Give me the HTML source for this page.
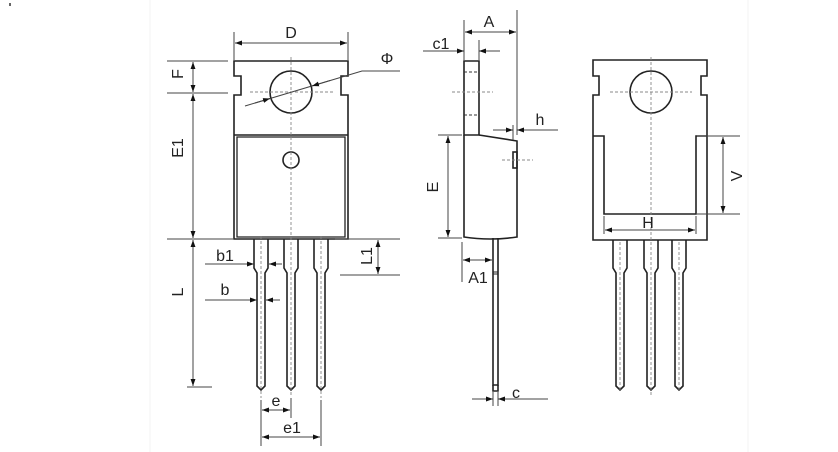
<!DOCTYPE html>
<html><head><meta charset="utf-8"><style>
html,body{margin:0;padding:0;background:#fff;}
svg{display:block;}
text{font-family:"Liberation Sans",sans-serif;fill:#222;}
</style></head><body>
<svg width="838" height="452" viewBox="0 0 838 452" xmlns="http://www.w3.org/2000/svg">
<defs>
<marker id="a" viewBox="0 0 10 10" refX="10" refY="5" markerWidth="7" markerHeight="7" orient="auto-start-reverse"><path d="M0,1.5 L10,5 L0,8.5 z" fill="#111"/></marker>
</defs>
<rect width="838" height="452" fill="#fff"/>
<line x1="150" y1="0" x2="150" y2="452" stroke="#f3f3f3"/>
<line x1="748" y1="0" x2="748" y2="452" stroke="#f3f3f3"/>
<rect x="9" y="3" width="2" height="3" fill="#666"/>

<g fill="none" stroke="#222" stroke-width="1.6">
<path d="M234,61 H348 V76 H341 V95 H348 V239 H234 V95 H241 V76 H234 Z"/>
<path d="M234,135 H348"/>
<path d="M237,137 H345 V237 H237 Z" stroke-width="1.3"/>
<circle cx="291" cy="92" r="21"/>
<circle cx="291" cy="160" r="8"/>
<path d="M254,239 V268 L257,273 V386 L261,390 L265,386 V273 L268,268 V239"/>
<path d="M284,239 V268 L287,273 V386 L291,390 L295,386 V273 L298,268 V239"/>
<path d="M314,239 V268 L317,273 V386 L321,390 L325,386 V273 L328,268 V239"/>

<path d="M464,61 H479 V135 H464 Z"/>
<path d="M464,135 V237 Q490,241 517,237 V141 L479,135"/>
<rect x="513" y="152" width="4" height="16"/>
<path d="M493,238 V385 H498 V238"/>
<path d="M493,385 V391 H498 V385"/>
<path d="M493,272 H498 M493,274 H498" stroke-width="1"/>

<path d="M593,60 H707 V76 H701 V95 H707 V240 H593 V95 H599 V76 H593 Z"/>
<path d="M593,136 H604 V214 H696 V136 H707"/>
<circle cx="651" cy="92" r="21"/>
<path d="M613,240 V268 L616,273 V386 L620,390 L624,386 V273 L627,268 V240"/>
<path d="M644,240 V268 L647,273 V386 L651,390 L655,386 V273 L658,268 V240"/>
<path d="M672,240 V268 L675,273 V386 L679,390 L683,386 V273 L686,268 V240"/>
</g>

<g fill="none" stroke="#888" stroke-width="0.9" stroke-dasharray="3,2">
<line x1="291" y1="57" x2="291" y2="395"/>
<line x1="250" y1="92" x2="335" y2="92"/>
<line x1="261" y1="236" x2="261" y2="398"/>
<line x1="321" y1="236" x2="321" y2="398"/>
<line x1="464" y1="72" x2="479" y2="72" stroke="#333"/>
<line x1="464" y1="115" x2="479" y2="115" stroke="#333"/>
<line x1="452" y1="92" x2="493" y2="92"/>
<line x1="502" y1="160" x2="533" y2="160"/>
<line x1="651" y1="57" x2="651" y2="395"/>
<line x1="610" y1="92" x2="692" y2="92"/>
<line x1="620" y1="242" x2="620" y2="390"/>
<line x1="679" y1="242" x2="679" y2="390"/>
</g>

<g fill="none" stroke="#444" stroke-width="1">
<line x1="234" y1="32" x2="234" y2="60"/><line x1="348" y1="32" x2="348" y2="60"/>
<line x1="235" y1="43" x2="347" y2="43" marker-start="url(#a)" marker-end="url(#a)"/>
<line x1="167" y1="61" x2="228" y2="61"/><line x1="167" y1="93" x2="228" y2="93"/>
<line x1="167" y1="239" x2="233" y2="239"/><line x1="187" y1="387" x2="212" y2="387"/>
<line x1="193" y1="62" x2="193" y2="92" marker-start="url(#a)" marker-end="url(#a)"/>
<line x1="193" y1="94" x2="193" y2="238" marker-start="url(#a)" marker-end="url(#a)"/>
<line x1="193" y1="240" x2="193" y2="386" marker-start="url(#a)" marker-end="url(#a)"/>
<polyline points="245,106 362,71 400,71"/>
<line x1="255" y1="103" x2="270" y2="98.5" marker-end="url(#a)"/>
<line x1="330" y1="80.5" x2="312" y2="86" marker-end="url(#a)"/>
<line x1="335" y1="239" x2="400" y2="239"/><line x1="340" y1="275" x2="400" y2="275"/>
<line x1="378" y1="240" x2="378" y2="274" marker-start="url(#a)" marker-end="url(#a)"/>
<line x1="205" y1="264" x2="254" y2="264" marker-end="url(#a)"/>
<line x1="282" y1="264" x2="269" y2="264" marker-end="url(#a)"/>
<line x1="205" y1="300" x2="257" y2="300" marker-end="url(#a)"/>
<line x1="280" y1="300" x2="266" y2="300" marker-end="url(#a)"/>
<line x1="261" y1="400" x2="261" y2="446"/><line x1="321" y1="400" x2="321" y2="446"/><line x1="291" y1="398" x2="291" y2="418"/>
<line x1="262" y1="410" x2="290" y2="410" marker-start="url(#a)" marker-end="url(#a)"/>
<line x1="262" y1="437" x2="320" y2="437" marker-start="url(#a)" marker-end="url(#a)"/>
<line x1="464" y1="20" x2="464" y2="60"/><line x1="517" y1="10" x2="517" y2="135"/>
<line x1="465" y1="32" x2="516" y2="32" marker-start="url(#a)" marker-end="url(#a)"/>
<line x1="479" y1="40" x2="479" y2="60"/>
<line x1="423" y1="51" x2="464" y2="51" marker-end="url(#a)"/>
<line x1="500" y1="51" x2="479" y2="51" marker-end="url(#a)"/>
<line x1="513" y1="125" x2="513" y2="140"/>
<line x1="493" y1="130" x2="513" y2="130" marker-end="url(#a)"/>
<line x1="558" y1="130" x2="517" y2="130" marker-end="url(#a)"/>
<line x1="438" y1="135" x2="462" y2="135"/><line x1="438" y1="238" x2="462" y2="238"/>
<line x1="448" y1="136" x2="448" y2="237" marker-start="url(#a)" marker-end="url(#a)"/>
<line x1="462" y1="242" x2="462" y2="282"/>
<line x1="463" y1="260" x2="492" y2="260" marker-start="url(#a)" marker-end="url(#a)"/>
<line x1="493" y1="392" x2="493" y2="406"/><line x1="498" y1="392" x2="498" y2="406"/>
<line x1="472" y1="399" x2="493" y2="399" marker-end="url(#a)"/>
<line x1="548" y1="399" x2="498" y2="399" marker-end="url(#a)"/>
<line x1="697" y1="136" x2="740" y2="136"/><line x1="697" y1="214" x2="740" y2="214"/>
<line x1="723" y1="137" x2="723" y2="213" marker-start="url(#a)" marker-end="url(#a)"/>
<line x1="604" y1="216" x2="604" y2="234"/><line x1="696" y1="216" x2="696" y2="234"/>
<line x1="605" y1="230" x2="695" y2="230" marker-start="url(#a)" marker-end="url(#a)"/>
</g>

<g font-size="16">
<text x="291" y="38" text-anchor="middle">D</text>
<text x="387" y="64" text-anchor="middle">Φ</text>
<text transform="translate(183,74) rotate(-90)" text-anchor="middle">F</text>
<text transform="translate(183,148) rotate(-90)" text-anchor="middle">E1</text>
<text transform="translate(183,292) rotate(-90)" text-anchor="middle">L</text>
<text transform="translate(372,256) rotate(-90)" text-anchor="middle">L1</text>
<text x="225" y="261" text-anchor="middle">b1</text>
<text x="225" y="295" text-anchor="middle">b</text>
<text x="276" y="406" text-anchor="middle">e</text>
<text x="292" y="433" text-anchor="middle">e1</text>
<text x="489" y="27" text-anchor="middle">A</text>
<text x="441" y="49" text-anchor="middle">c1</text>
<text x="540" y="125" text-anchor="middle">h</text>
<text transform="translate(438,187) rotate(-90)" text-anchor="middle">E</text>
<text x="478" y="283" text-anchor="middle">A1</text>
<text x="516" y="398" text-anchor="middle">c</text>
<text transform="translate(742,176) rotate(-90)" text-anchor="middle">V</text>
<text x="648" y="228" text-anchor="middle">H</text>
</g>
</svg>
</body></html>
